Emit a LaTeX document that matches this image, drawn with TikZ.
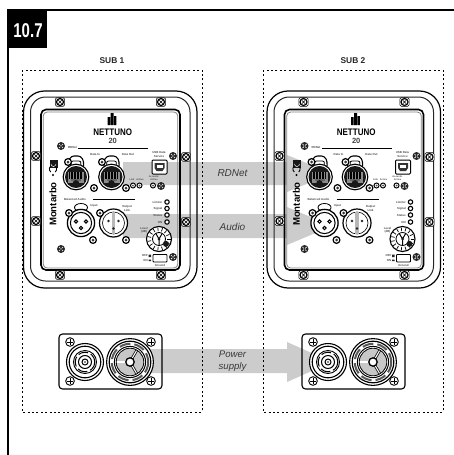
\documentclass[tikz,border=0pt]{standalone}
\usepackage{fontspec}
\setmainfont{Liberation Sans}
\definecolor{band}{HTML}{CCCCCC}
\definecolor{labelgray}{HTML}{3A3A3A}
\tikzset{
  hair/.style={line width=.5pt},
  fine/.style={line width=.8pt},
  tiny/.style={font=\fontsize{2.9}{3.3}\selectfont\bfseries,inner sep=0pt,align=center,text=black!70},
  bandtext/.style={font=\fontsize{10}{12}\selectfont\itshape,text=labelgray,inner sep=0pt,align=center},
  subtitle/.style={font=\fontsize{8.4}{9}\selectfont\bfseries,inner sep=0pt,text=black!85},
  subbox/.style={line width=.8pt,dash pattern=on 2pt off 2.4pt},
  bandfill/.style={fill=band,draw=none},
  pics/framescrew/.style={code={
    \draw[fill=white,line width=.5pt,rounded corners=1.5pt] (-4.6,-4.4) rectangle (4.6,4.4);
    \draw[fill=white,line width=1.2pt] (0,0) circle (3.5);
    \draw[line width=.6pt,rotate=45] (-2.4,0)--(2.4,0) (0,-2.4)--(0,2.4);
  }},
  pics/panelscrew/.style={code={
    \fill[black!85] (0,0) circle (4);
    \draw[white,line width=.7pt,rotate=45] (-3,0)--(3,0) (0,-3)--(0,3);
    \fill[black!85] (0,0) circle (1);
  }},
  pics/ringscrew/.style={code={
    \draw[fill=white,line width=1.2pt] (0,0) circle (3.4);
    \fill[black!80] (0,0) circle (1.5);
  }},
  pics/crossscrew/.style={code={
    \draw[fill=white,line width=.9pt] (0,0) circle (4.3);
    \draw[line width=.9pt] (-3,0)--(3,0) (0,-3)--(0,3);
  }},
  pics/ethercon/.style={code={
    \draw[fill=white,line width=1.1pt,rounded corners=3pt] (-7,-8)--(-8,-15)--(-5,-21)--(5,-21)--(8,-15)--(7,-8)--cycle;
    \draw[fill=white,line width=.8pt,rounded corners=2pt] (-4.5,-9)--(-5,-16)--(5,-16)--(4.5,-9)--cycle;
    \draw[fill=white,line width=1.1pt] (0,0) circle (12.8);
    \fill[black!90] (0,0) circle (11);
    \fill[black!45] (-8,-5.5) rectangle (8,5.5);
    \foreach \k in {-6.5,-5,...,6.5}{\draw[black,line width=.6pt] (\k,-5)--(\k,1.5);}
    \fill[black!60] (-5,2) rectangle (5,4.2);
    \fill[black!90] (0,6.5) circle (3.4);
  }},
  pics/xlrfemale/.style={code={
    \draw[fill=white,line width=.8pt] (0,-15.5) ellipse (6.5 and 4);
    \draw[fill=white,line width=1.3pt] (0,0) circle (13.6);
    \draw[line width=1pt] (0,0) circle (10.6);
    \foreach \p in {(-5,-1.5),(5,-1.5),(0,5)}{\draw[fill=white,line width=1pt] \p circle (1.7);}
  }},
  pics/xlrmale/.style={code={
    \draw[fill=white,line width=1.2pt] (0,0) circle (14);
    \draw[line width=.6pt] (0,0) circle (11);
    \fill[black!28] (-1.6,-10.8) rectangle (1.6,10.8);
    \foreach \p in {(-5,-2),(5,-2),(0,5.5)}{\fill[black!85] \p circle (1.4);}
  }},
  pics/levelknob/.style={code={
    \draw[fill=white,line width=1.1pt] (0,0) circle (12.5);
    \foreach \a in {0,24,...,336}{\draw[line width=.7pt] (\a:8)--(\a:11.5);}
    \draw[line width=.8pt] (0,0) circle (6.5);
    \draw[line width=1pt] (0,0)--(-120:6.5) (0,0)--(-60:6.5) (0,0)--(90:6.5);
    \fill[black!90] (35:8.5) circle (3);
    \fill[black!90] (0,0) circle (1.5);
  }},
  pics/smallknob/.style={code={
    \draw[fill=white,line width=1pt] (0,0) circle (2.5);
    \fill[black!70] (0,0) circle (1);
  }},
  pics/speakon/.style={code={
    \draw[fill=white,line width=1.1pt] (0,0) circle (18.5);
    \draw[line width=1.1pt] (0,0) circle (15.8);
    \draw[line width=.9pt] (0,0) circle (11.5);
    \draw[line width=1pt,dash pattern=on 10pt off 3pt] (0,0) circle (9.8);
    \draw[line width=1pt] (0,0) circle (6.5);
    \draw[line width=1pt] (0,0) circle (3);
    \fill[black!90] (0,0) circle (.9);
  }},
  pics/powercon/.style={code={
    \draw[fill=white,line width=1.1pt] (0,0) circle (23.4);
    \draw[line width=1.2pt] (0,0) circle (20.8);
    \draw[line width=2pt,black!65,dash pattern=on 11pt off 4pt] (0,0) circle (18.2);
    \draw[line width=1pt] (0,0) circle (15.6);
    \fill[black!22] (0,0) circle (13.8);
    \draw[line width=.8pt] (0,0) circle (13.8);
    \foreach \a in {60,180,-60}{
      \draw[line width=2.6pt] (\a:3.5)--(\a:13.5);
      \draw[white,line width=1.1pt] (\a:3.5)--(\a:13);
    }
    \draw[line width=1.3pt,fill=white] (0,0) circle (4.2);
  }},
  pics/subpanel/.style={code={
    \draw[line width=1.2pt,rounded corners=21pt] (23.5,91) rectangle (197,288);
    \draw[line width=1pt,black!85,rounded corners=15pt] (30.5,97) rectangle (190,281);
    \draw[line width=.8pt,black!50,rounded corners=4pt] (43.2,112) rectangle (177.8,268);
    \draw[line width=1.6pt,rounded corners=5pt] (41,109.5) rectangle (180,270);
    \foreach \p in {(60,102),(161,102),(36,156),(36,221),(186,157),(186,222),(60,275),(161,275)}{\pic at \p {framescrew};}
    \foreach \p in {(61,146),(173,156),(61,249),(173,257),(161,186)}{\pic at \p {panelscrew};}
    \fill (107.6,117) rectangle (110,125) (110.6,113) rectangle (113.6,125) (114.2,116) rectangle (116.4,125);
    \node[inner sep=0pt,font=\fontsize{10}{10}\selectfont\bfseries] (name) at (112.7,132) {\scalebox{.8}[.95]{NETTUNO}};
    \node[inner sep=0pt,font=\fontsize{7.5}{8}\selectfont\bfseries,text=black!75] (model) at (112.7,140.5) {20};
    \node[tiny] (rdnettag) at (72.5,148) {RDNet};
    \draw[line width=1pt] (78,148)--(148,148);
    \pic at (76,177) {ethercon};
    \pic at (111.5,177) {ethercon};
    \foreach \p in {(68,162),(94,188),(102,162),(126,188)}{\pic at \p {ringscrew};}
    \node[tiny] (datain) at (95,155) {Data In};
    \node[tiny] (dataout) at (128,155) {Data Out};
    \node[tiny] (usbtag) at (159,154.5) {USB Data\\Service};
    \draw[line width=1pt,rounded corners=1pt,fill=white] (152,160) rectangle (167,174);
    \fill[black!80] (154.5,163) -- (164.5,163) -- (164.5,168) -- (162.5,171) -- (156.5,171) -- (154.5,168) -- cycle;
    \fill[white] (156.5,165) rectangle (162.5,167.5);
    \pic at (133,185.5) {smallknob};
    \pic at (139.5,185.5) {smallknob};
    \pic at (153,185.5) {smallknob};
    \node[tiny,font=\fontsize{2.4}{3}\selectfont\bfseries] (linktag) at (132,179.5) {Link};
    \node[tiny,font=\fontsize{2.4}{3}\selectfont\bfseries] (activetag) at (140,179.5) {Active};
    \node[tiny,font=\fontsize{2.4}{3}\selectfont\bfseries] (acoustictag) at (154,178) {Acoustic\\Active};
    \node[tiny] (balancedtag) at (75,199) {Balanced Audio};
    \draw[line width=1pt] (93,199)--(135,199);
    \pic at (81,223) {xlrfemale};
    \pic at (113.5,223) {xlrmale};
    \foreach \p in {(69,213),(93,240),(100,213),(126,240)}{\pic at \p {ringscrew};}
    \node[tiny] (inputtag) at (94,206) {Input};
    \node[tiny] (outputtag) at (127,208.5) {Output\\Link};
    \foreach \y/\t in {202/Limiter,208.5/Signal,215/Status,222/ON}{
      \draw[fill=white,line width=1.1pt] (167,\y) circle (2.2);
      \node[tiny,anchor=east] (led\t) at (162.5,\y) {\t};
    }
    \node[tiny] (leveltag) at (144,230) {Level\\(dB)};
    \pic at (159,239) {levelknob};
    \draw[line width=.8pt,rounded corners=.8pt,fill=white] (153,254.5) rectangle (167,262);
    \fill[black!85] (148.5,254.5) rectangle (151,257) (148.5,259.5) rectangle (151,261);
    \node[tiny,anchor=east] (offtag) at (148,255.8) {OFF};
    \node[tiny,anchor=east] (ontag) at (148,260.2) {ON};
    \node[tiny] (groundtag) at (160,265.5) {Ground};
    \fill[black!90] (49.5,160) rectangle (57.5,168);
    \draw[white,line width=.5pt] (51,164) arc (180:0:2.5);
    \fill[black] (53,175) circle (1.1);
    \draw[line width=.9pt] (50.8,172) arc (130:230:4);
    \draw[line width=.9pt] (55.2,172) arc (50:-50:4);
    \node[rotate=90,inner sep=0pt,font=\fontsize{9.6}{10}\selectfont\bfseries] (brand) at (53,204) {Montarbo};
  }},
  pics/powerplate/.style={code={
    \draw[line width=1.1pt,rounded corners=3.5pt] (59,334) rectangle (162,389);
    \pic at (70,342) {crossscrew};
    \pic at (70,381) {crossscrew};
    \pic at (151,342) {crossscrew};
    \pic at (151,381) {crossscrew};
    \pic at (85,362) {speakon};
    \pic at (130,362) {powercon};
  }}
}
\begin{document}
\begin{tikzpicture}[x=1pt,y=-1pt]
\useasboundingbox (0,0) rectangle (454,455);
% frame
\draw[line width=2.4pt] (8,455)--(8,9.7)--(454,9.7);
\fill (7,9) rectangle (47,48);
\node[inner sep=0pt,text=white,font=\fontsize{20}{20}\selectfont\bfseries] (chapter) at (28,31) {\scalebox{.75}[1]{10.7}};
% grey bands
\fill[bandfill] (123,162)--(287,162)--(287,155)--(332,173.5)--(287,192)--(287,185)--(123,185)--cycle;
\fill[bandfill] (123,214)--(287,214)--(287,207)--(332,226)--(287,245)--(287,238)--(123,238)--cycle;
\fill[bandfill] (150,349)--(287,349)--(287,342)--(332,362)--(287,382)--(287,373)--(150,373)--cycle;
% sub boxes
\draw[subbox] (22,70) rectangle (202,412);
\draw[subbox] (263,70) rectangle (443,412);
\node[subtitle] (sub1) at (112,61) {SUB 1};
\node[subtitle] (sub2) at (353,61) {SUB 2};
% hardware
\pic (left) at (0,0) {subpanel};
\pic (right) at (243.5,0) {subpanel};
\pic (leftpower) at (0,0) {powerplate};
\pic (rightpower) at (243,0) {powerplate};
% labels
\node[bandtext] (rdnet) at (232.5,173) {RDNet};
\node[bandtext] (audio) at (232.5,226.5) {Audio};
\node[bandtext,font=\fontsize{9.6}{12}\selectfont\itshape] (power) at (232.5,361) {Power\\supply};
\end{tikzpicture}
\end{document}
